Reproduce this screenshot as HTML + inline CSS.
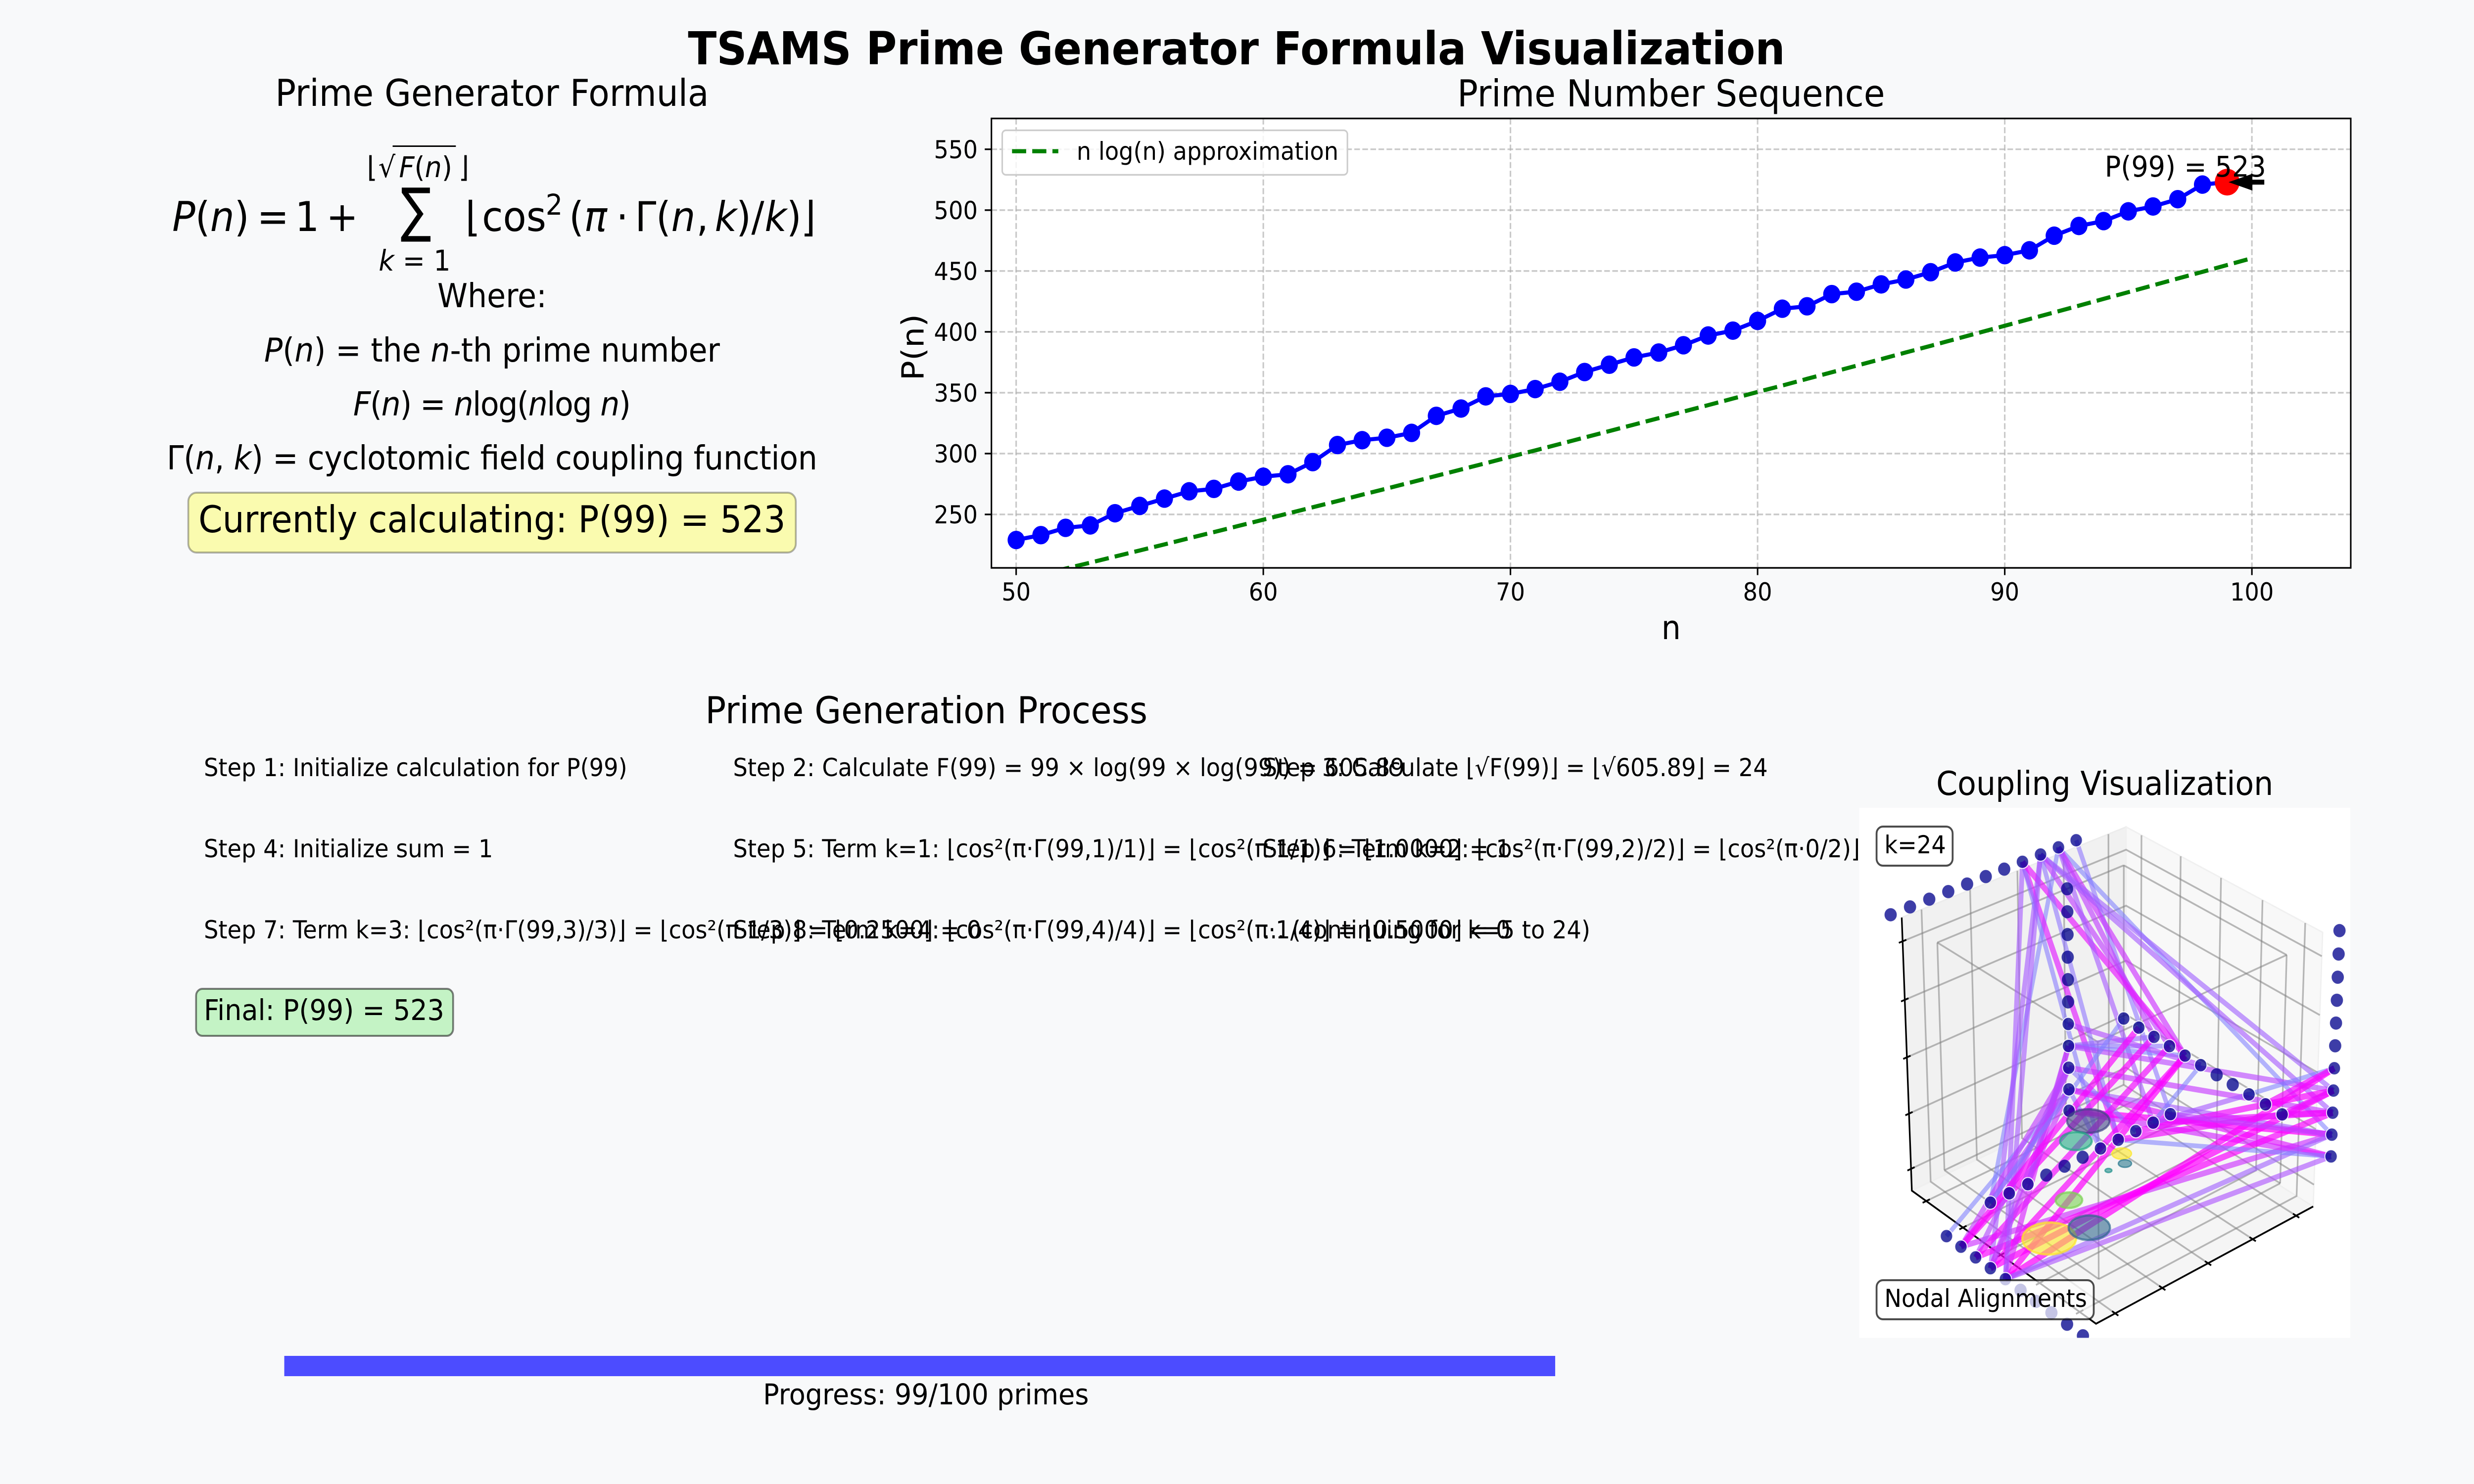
<!DOCTYPE html>
<html>
<head>
<meta charset="utf-8">
<title>TSAMS Prime Generator Formula Visualization</title>
<style>
html,body{margin:0;padding:0;background:#f8f9fa;width:100%;height:100%;overflow:hidden}
svg{display:block;position:absolute;left:0;top:0;width:100%;height:100%}
text{font-family:"DejaVu Sans","Liberation Sans",sans-serif;fill:#000}
.i{font-style:italic}
</style>
</head>
<body>
<svg id="fig" xmlns="http://www.w3.org/2000/svg" viewBox="0 0 5400 3000" preserveAspectRatio="none">
<defs>
<clipPath id="plotClip"><rect x="2164" y="239.5" width="2967" height="908.5"/></clipPath>
<clipPath id="panelClip"><rect x="4058" y="1633" width="1072" height="1071.5"/></clipPath>
</defs>
<rect x="0" y="0" width="5400" height="3000" fill="#f8f9fa"/>
<text x="2699" y="130" font-size="91.67" font-weight="700" text-anchor="middle">TSAMS Prime Generator Formula Visualization</text>

<g>
<text x="1074" y="214" font-size="75" text-anchor="middle">Prime Generator Formula</text>
<g font-size="83.33">
<text x="376" y="467"><tspan class="i">P</tspan>(<tspan class="i">n</tspan>)</text>
<text x="561" y="467">=</text>
<text x="644" y="467">1</text>
<text x="712" y="467">+</text>
<text x="0" y="0" font-size="100" text-anchor="middle" transform="translate(908 465.5) scale(1 1.2)">∑</text>
<text x="801" y="358" font-size="58.33">⌊</text>
<text x="826" y="358" font-size="58.33">√</text>
<rect x="857" y="294" width="138" height="3"/>
<text x="871" y="358" font-size="58.33"><tspan class="i">F</tspan>(<tspan class="i">n</tspan>)</text>
<text x="1001" y="358" font-size="58.33">⌋</text>
<text x="905" y="547" font-size="58.33" text-anchor="middle"><tspan class="i">k</tspan> = 1</text>
<text x="1016" y="467">⌊</text>
<text x="1052" y="467">cos</text>
<text x="1191" y="434" font-size="58.33">2</text>
<text x="1242" y="467">(</text>
<text x="1275" y="467" class="i">π</text>
<text x="1345" y="467">·</text>
<text x="1386" y="467">Γ</text>
<text x="1432" y="467">(</text>
<text x="1465" y="467" class="i">n</text>
<text x="1520" y="467">,</text>
<text x="1560" y="467" class="i">k</text>
<text x="1607" y="467">)</text>
<text x="1640" y="467">/</text>
<text x="1669" y="467" class="i">k</text>
<text x="1717" y="467">)</text>
<text x="1748" y="467">⌋</text>
</g>
<text x="1074" y="621" font-size="66.67" text-anchor="middle">Where:</text>
<text x="1074" y="731" font-size="66.67" text-anchor="middle"><tspan class="i">P</tspan>(<tspan class="i">n</tspan>) = the <tspan class="i">n</tspan>-th prime number</text>
<text x="1074" y="840" font-size="66.67" text-anchor="middle" textLength="606" lengthAdjust="spacing"><tspan class="i">F</tspan>(<tspan class="i">n</tspan>) = <tspan class="i">n</tspan>log(<tspan class="i">n</tspan>log <tspan class="i">n</tspan>)</text>
<text x="1074" y="949" font-size="66.67" text-anchor="middle" textLength="1420" lengthAdjust="spacing">Γ(<tspan class="i">n</tspan>, <tspan class="i">k</tspan>) = cyclotomic field coupling function</text>
<rect x="411" y="996" width="1326" height="121" rx="18" fill="rgb(250,251,175)" stroke="rgba(0,0,0,0.3)" stroke-width="4"/>
<text x="1074" y="1076" font-size="75" text-anchor="middle">Currently calculating: P(99) = 523</text>
</g>

<g id="lineChart"></g>

<g>
<text x="2022" y="1462" font-size="75" text-anchor="middle">Prime Generation Process</text>
<g font-size="50">
<text x="445" y="1569">Step 1: Initialize calculation for P(99)</text>
<text x="1600" y="1569">Step 2: Calculate F(99) = 99 × log(99 × log(99)) = 605.89</text>
<text x="2756" y="1569">Step 3: Calculate ⌊√F(99)⌋ = ⌊√605.89⌋ = 24</text>
<text x="445" y="1733">Step 4: Initialize sum = 1</text>
<text x="1600" y="1733">Step 5: Term k=1: ⌊cos²(π·Γ(99,1)/1)⌋ = ⌊cos²(π·1/1)⌋ = ⌊1.0000⌋ = 1</text>
<text x="2756" y="1733">Step 6: Term k=2: ⌊cos²(π·Γ(99,2)/2)⌋ = ⌊cos²(π·0/2)⌋ = ⌊1.0000⌋ = 1</text>
<text x="445" y="1897">Step 7: Term k=3: ⌊cos²(π·Γ(99,3)/3)⌋ = ⌊cos²(π·1/3)⌋ = ⌊0.2500⌋ = 0</text>
<text x="1600" y="1897">Step 8: Term k=4: ⌊cos²(π·Γ(99,4)/4)⌋ = ⌊cos²(π·1/4)⌋ = ⌊0.5000⌋ = 0</text>
<text x="2756" y="1897">... (continuing for k=5 to 24)</text>
</g>
<rect x="428" y="1999" width="561" height="95" rx="14" fill="rgb(196,243,197)" stroke="rgba(0,0,0,0.5)" stroke-width="4"/>
<text x="445" y="2062" font-size="58.33">Final: P(99) = 523</text>
</g>

<rect x="620.5" y="2741" width="2774" height="41" fill="#4c4cff"/>
<text x="2021" y="2839" font-size="58.33" text-anchor="middle">Progress: 99/100 primes</text>

<text x="4594" y="1607" font-size="66.67" text-anchor="middle">Coupling Visualization</text>
<rect x="4058" y="1633" width="1072" height="1071.5" fill="#ffffff"/>
<g id="scene" clip-path="url(#panelClip)"></g>
<g>
<rect x="4096" y="1671" width="166" height="79" rx="14" fill="rgba(255,255,255,0.7)" stroke="rgba(0,0,0,0.7)" stroke-width="4"/>
<text x="4113" y="1725" font-size="50">k=24</text>
<rect x="4096" y="2588" width="474" height="79" rx="14" fill="rgba(255,255,255,0.7)" stroke="rgba(0,0,0,0.7)" stroke-width="4"/>
<text x="4113" y="2642" font-size="50">Nodal Alignments</text>
</g>
</svg>
<script>
// ---- Prime sequence chart data ----
const nValues=[50,51,52,53,54,55,56,57,58,59,60,61,62,63,64,65,66,67,68,69,70,71,72,73,74,75,76,77,78,79,80,81,82,83,84,85,86,87,88,89,90,91,92,93,94,95,96,97,98,99];
const primeValues=[229,233,239,241,251,257,263,269,271,277,281,283,293,307,311,313,317,331,337,347,349,353,359,367,373,379,383,389,397,401,409,419,421,431,433,439,443,449,457,461,463,467,479,487,491,499,503,509,521,523];
const approxN=[50,51,52,53,54,55,56,57,58,59,60,61,62,63,64,65,66,67,68,69,70,71,72,73,74,75,76,77,78,79,80,81,82,83,84,85,86,87,88,89,90,91,92,93,94,95,96,97,98,99,100];
const approxValues=[195.6,200.5,205.5,210.4,215.4,220.4,225.4,230.5,235.5,240.6,245.7,250.8,255.9,261.0,266.2,271.3,276.5,281.7,286.9,292.1,297.4,302.6,307.9,313.2,318.5,323.8,329.1,334.5,339.8,345.2,350.6,355.9,361.4,366.8,372.2,377.6,383.1,388.5,394.0,399.5,405.0,410.5,416.0,421.5,427.1,432.6,438.2,443.8,449.3,454.9,460.5];
const xTickValues=[50,60,70,80,90,100];
const yTickValues=[250,300,350,400,450,500,550];
const highlightN=[99];
const highlightPrime=[523];

// ---- Coupling scene data (3D data coordinates) ----
const chainNames=['A','B','C','D','E','F'];
const chainVary=['y','z','z','x','x','y'];
const chainFixedX=[-1.63,-1,1,null,null,-0.38];
const chainFixedY=[null,0.37,1.6,-1,1,null];
const chainFixedZ=[0.99,null,null,-1.61,-0.38,-1];
const nodeParams=[-1,-0.8,-0.6,-0.4,-0.2,0,0.2,0.4,0.6,0.8,1];
const nodeParamsDown=[1,0.8,0.6,0.4,0.2,0,-0.2,-0.4,-0.6,-0.8,-1];
const sceneTicks=[-1,-0.5,0,0.5,1];
const linkSources=['A10','A9','A9','A9','A9','A8','A8','A8','A8','A7','A7','A7','A7','A9','A8','B7','B7','B7','B6','B8','B7','B9','B10','B10','B9','B8','B9','D0','D1','D1','D2','D2','D2','D3','D3','D3','D3','D4','D4','D4','D4','D4','D4','D1','F0','F1','F2','F7','F7','F8','F9','F9','F9','F10','E8','E9','E9','E10','E10','E0','E1'];
const linkTargets=['F10','C9','F0','E4','E2','C8','C7','D3','E3','F7','D4','F6','E4','F9','F7','E4','E3','E2','E5','C8','C7','C9','C10','C9','C10','F8','F6','B9','E2','C9','B8','E3','C8','E4','C7','B9','B8','E4','C6','C9','C10','B7','A8','B8','B9','B8','B7','C10','E10','E9','C8','E8','E5','C9','C6','C6','C7','C7','C8','F0','D1'];
const linkStrengths=[0.1,0,0,0.6,0.5,0.3,0.25,0.3,0.5,0.75,0.3,0.05,0.8,0.3,0.1,0,0.1,0.2,0.4,0.55,0.45,0.3,0.65,1,0.75,0.1,0.1,0,0.95,0.6,0.4,0.9,0.95,0.95,1,0.6,0.5,1,1,0.25,0.35,0.7,0.3,0.5,0.45,0.4,0.45,0,0.9,0.9,0.85,0.3,0,0.45,0,0.9,0.95,0.85,0.9,0,0.95];
const ringX=[0.323,0.425,-0.769,-0.604,0.021,-0.204,-0.074,-0.088];
const ringY=[-0.95,-0.61,0.394,0.114,-0.488,0.286,0.21,0.038];
const ringZ=[-1,-1,-1,-1,-1,-1,-1,-1];
const ringRadius=[0.22,0.17,0.185,0.137,0.111,0.084,0.056,0.029];
const ringColors=['#fde725','#31688e','#414487','#22a884','#7ad151','#fde725','#2a788e','#21908c'];

const SVGNS='http://www.w3.org/2000/svg';
function el(tag,attrs,parent,txt){
  const e=document.createElementNS(SVGNS,tag);
  for(const k in attrs){e.setAttribute(k,attrs[k]);}
  if(txt!==undefined){e.textContent=txt;}
  parent.appendChild(e);
  return e;
}

// ---- Line chart ----
const axL=2164,axR=5131,axT=239.5,axB=1148;
const xDomain=[49,104],yDomain=[206.1,575.3];
function xScale(v){return axL+(v-xDomain[0])/(xDomain[1]-xDomain[0])*(axR-axL);}
function yScale(v){return axB-(v-yDomain[0])/(yDomain[1]-yDomain[0])*(axB-axT);}
(function(){
  const g=document.getElementById('lineChart');
  const bg=el('rect',{x:axL,y:axT,width:axR-axL,height:axB-axT,fill:'#fff'},g);
  
  
  const grid=el('g',{stroke:'rgba(176,176,176,0.7)','stroke-width':3.33,'stroke-dasharray':'12.3 5.3'},g);
  
  
  xTickValues.forEach(function(t){
    const l=el('line',{x1:xScale(t),x2:xScale(t),y1:axT,y2:axB},grid);
    
    
  });
  yTickValues.forEach(function(t){
    const l=el('line',{x1:axL,x2:axR,y1:yScale(t),y2:yScale(t)},grid);
    
    
  });
  const clip=el('g',{'clip-path':'url(#plotClip)'},g);
  
  
  const approx=el('path',{d:approxN.map(function(n,i){return (i?'L':'M')+xScale(n)+' '+yScale(approxValues[i]);}).join(''),fill:'none',stroke:'#008000','stroke-width':8.33,'stroke-dasharray':'30.8 13.3'},clip);
  
  
  const line=el('path',{d:nValues.map(function(n,i){return (i?'L':'M')+xScale(n)+' '+yScale(primeValues[i]);}).join(''),fill:'none',stroke:'#0000ff','stroke-width':8.33,'stroke-linejoin':'round'},clip);
  
  
  nValues.forEach(function(n,i){
    const c=el('circle',{cx:xScale(n),cy:yScale(primeValues[i]),r:18.7,fill:'#0000ff'},clip);
    
    
  });
  const hx=xScale(highlightN[0]),hy=yScale(highlightPrime[0]);
  const hc=el('circle',{cx:hx,cy:hy,r:27,fill:'#ff0000'},clip);
  
  
  const at=el('text',{x:4594,y:357,'font-size':58.33},g,'P(99) = 523');
  
  
  const tipX=hx+3,tipY=hy;
  const arrow=el('path',{d:'M'+tipX+' '+tipY+'L'+(tipX+52)+' '+(tipY-17)+'V'+(tipY-5)+'H'+(tipX+78)+'V'+(tipY+5)+'H'+(tipX+52)+'V'+(tipY+17)+'Z',fill:'#000'},g);
  
  
  const frame=el('rect',{x:axL,y:axT,width:axR-axL,height:axB-axT,fill:'none',stroke:'#000','stroke-width':3.33},g);
  
  
  xTickValues.forEach(function(t){
    const m=el('line',{x1:xScale(t),x2:xScale(t),y1:axB,y2:axB+14.6,stroke:'#000','stroke-width':3.33},g);
    
    
    const tl=el('text',{x:xScale(t),y:1214,'font-size':50,'text-anchor':'middle'},g,String(t));
    
    
  });
  yTickValues.forEach(function(t){
    const m=el('line',{x1:axL-14.6,x2:axL,y1:yScale(t),y2:yScale(t),stroke:'#000','stroke-width':3.33},g);
    
    
    const tl=el('text',{x:2134,y:yScale(t)+18,'font-size':50,'text-anchor':'end'},g,String(t));
    
    
  });
  const xt=el('text',{x:3647.5,y:1292,'font-size':66.67,'text-anchor':'middle'},g,'n');
  
  
  const yt=el('text',{x:0,y:0,'font-size':66.67,'text-anchor':'middle',transform:'translate(2016 702) rotate(-90)'},g,'P(n)');
  
  
  const st=el('text',{x:3647.5,y:215,'font-size':75,'text-anchor':'middle'},g,'Prime Number Sequence');
  
  
  const lg=el('rect',{x:2187.6,y:263.4,width:753.4,height:90,rx:8,fill:'rgba(255,255,255,0.8)',stroke:'#cccccc','stroke-width':3.33},g);
  
  
  const ll=el('line',{x1:2209,x2:2310,y1:305.7,y2:305.7,stroke:'#008000','stroke-width':8.33,'stroke-dasharray':'30.8 13.3'},g);
  
  
  const lt=el('text',{x:2350,y:323,'font-size':50},g,'n log(n) approximation');
  
  
})();

// ---- Coupling 3D scene ----
const LIM=1.2;
function project(x,y,z){
  const s=0.5-x/(2*LIM),t=0.5+y/(2*LIM),w=0.5+z/(2*LIM);
  const d=1+0.0718*s+0.0652*t-0.0497*w;
  return [(4575-102.4*s+803.2*t-230*w)/d,(2676-96.2*s-78*t-684*w)/d];
}
function polyPath(pts,close){
  return pts.map(function(p,i){const q=project(p[0],p[1],p[2]);return (i?'L':'M')+q[0].toFixed(1)+' '+q[1].toFixed(1);}).join('')+(close?'Z':'');
}
(function(){
  const g=document.getElementById('scene');
  const paneLeft=el('path',{d:polyPath([[-LIM,-LIM,-LIM],[-LIM,LIM,-LIM],[-LIM,LIM,LIM],[-LIM,-LIM,LIM]],true),fill:'#f1f1f1',stroke:'#ececec','stroke-width':3},g);
  
  
  const paneRight=el('path',{d:polyPath([[-LIM,LIM,-LIM],[LIM,LIM,-LIM],[LIM,LIM,LIM],[-LIM,LIM,LIM]],true),fill:'#f8f8f8',stroke:'#f0f0f0','stroke-width':3},g);
  
  
  const paneFloor=el('path',{d:polyPath([[-LIM,-LIM,-LIM],[LIM,-LIM,-LIM],[LIM,LIM,-LIM],[-LIM,LIM,-LIM]],true),fill:'#f5f5f5',stroke:'#efefef','stroke-width':3},g);
  
  

  const grid=el('g',{fill:'none',stroke:'rgba(128,128,128,0.55)','stroke-width':3.6,'stroke-linejoin':'miter'},g);
  
  
  sceneTicks.forEach(function(t){
    const a=el('path',{d:polyPath([[t,-LIM,-LIM],[t,LIM,-LIM],[t,LIM,LIM]])},grid);
    
    
    const b=el('path',{d:polyPath([[LIM,t,-LIM],[-LIM,t,-LIM],[-LIM,t,LIM]])},grid);
    
    
    const c=el('path',{d:polyPath([[-LIM,-LIM,t],[-LIM,LIM,t],[LIM,LIM,t]])},grid);
    
    
  });
  const cubeCorners=[-1,1];
  const cube=el('g',{fill:'none',stroke:'rgba(128,128,128,0.55)','stroke-width':3.6},g);
  
  
  cubeCorners.forEach(function(a){cubeCorners.forEach(function(b){
    const e1=el('path',{d:polyPath([[-1,a,b],[1,a,b]])},cube);
    
    
    const e2=el('path',{d:polyPath([[a,-1,b],[a,1,b]])},cube);
    
    
    const e3=el('path',{d:polyPath([[a,b,-1],[a,b,1]])},cube);
    
    
  });});

  const axes=el('g',{fill:'none',stroke:'#000','stroke-width':3.6},g);
  
  
  const ax1=el('path',{d:polyPath([[-LIM,-LIM,LIM],[-LIM,-LIM,-LIM],[LIM,-LIM,-LIM],[LIM,LIM,-LIM]])},axes);
  
  
  const TK=0.038;
  sceneTicks.forEach(function(t){
    const a=el('path',{d:polyPath([[t,-LIM-TK,-LIM],[t,-LIM+TK,-LIM]])},axes);
    
    
    const b=el('path',{d:polyPath([[LIM-TK,t,-LIM],[LIM+TK,t,-LIM]])},axes);
    
    
    const c=el('path',{d:polyPath([[-LIM,-LIM-TK,t],[-LIM,-LIM+TK,t]])},axes);
    
    
  });

  const nodes={};
  chainNames.forEach(function(name,ci){
    const vary=chainVary[ci];
    const params=vary==='z'?nodeParamsDown:nodeParams;
    params.forEach(function(p,i){
      nodes[name+i]=[vary==='x'?p:chainFixedX[ci],vary==='y'?p:chainFixedY[ci],vary==='z'?p:chainFixedZ[ci]];
    });
  });

  const linked={};
  const linkGroup=el('g',{fill:'none','stroke-linecap':'butt'},g);
  
  
  linkSources.forEach(function(src,i){
    const tgt=linkTargets[i],v=linkStrengths[i];
    linked[src]=true;linked[tgt]=true;
    const col='rgba('+Math.round(128+127*v)+','+Math.round(128-128*v)+',255,'+(0.58+0.12*v).toFixed(2)+')';
    const l=el('path',{d:polyPath([nodes[src],nodes[tgt]]),stroke:col,'stroke-width':(9.5+3.5*v).toFixed(1)},linkGroup);
    
    
  });

  const nodeGroup=el('g',{},g);
  
  
  Object.keys(nodes).forEach(function(key){
    const q=project(nodes[key][0],nodes[key][1],nodes[key][2]);
    const c=el('circle',{cx:q[0].toFixed(1),cy:q[1].toFixed(1),r:13.5,fill:'rgba(0,0,139,0.76)',stroke:linked[key]?'rgba(255,255,255,0.9)':'rgba(255,255,255,0.25)','stroke-width':linked[key]?2:1},nodeGroup);
    
    
  });

  const ringGroup=el('g',{},g);
  
  
  const ringSteps=[0,1,2,3,4,5,6,7,8,9,10,11,12,13,14,15,16,17,18,19,20,21,22,23];
  ringX.forEach(function(x,i){
    const pts=ringSteps.map(function(k){
      const a=k/ringSteps.length*2*Math.PI;
      return [x+ringRadius[i]*Math.cos(a),ringY[i]+ringRadius[i]*Math.sin(a),ringZ[i]];
    });
    const r=el('path',{d:polyPath(pts,true),fill:ringColors[i],'fill-opacity':0.6,stroke:ringColors[i],'stroke-opacity':0.7,'stroke-width':i<5?4.5:3},ringGroup);
    
    
  });
})();
</script>
</body>
</html>
